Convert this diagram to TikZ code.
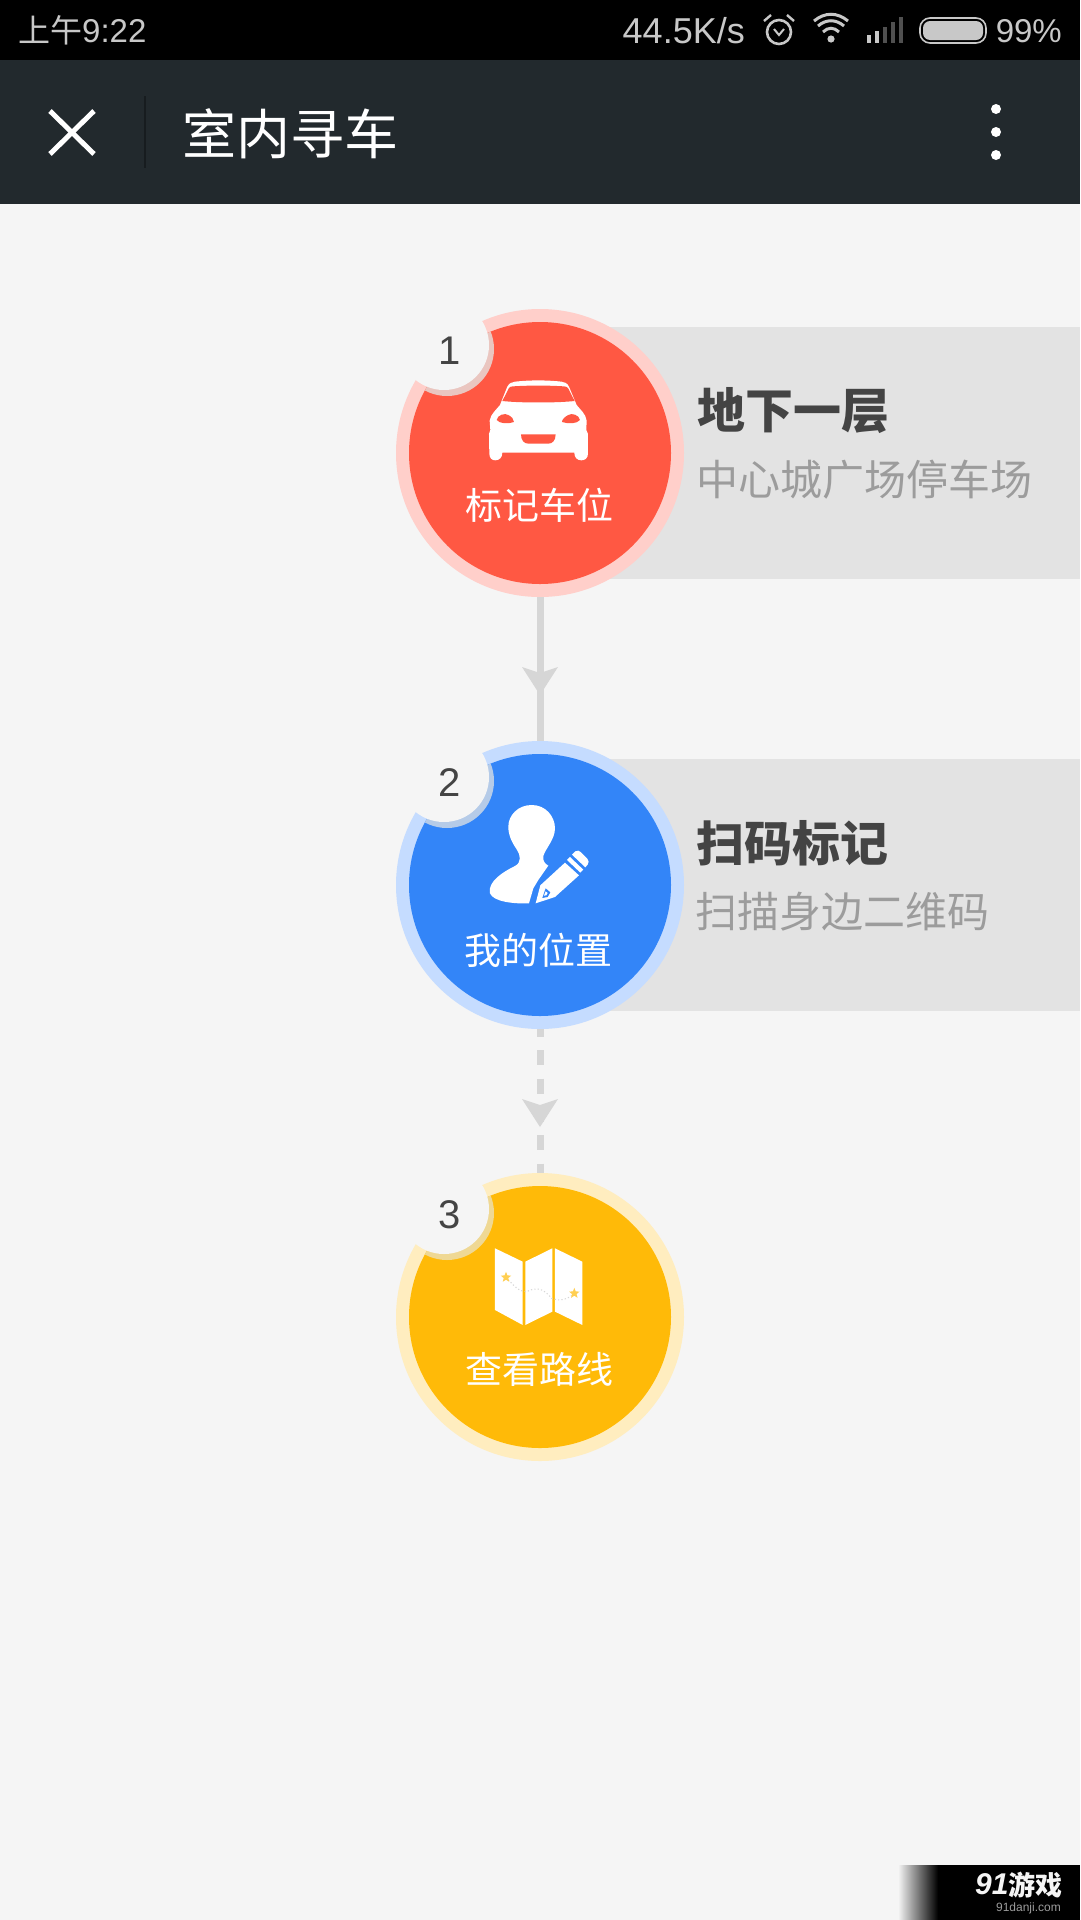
\documentclass[tikz,border=0pt]{standalone}
\usepackage{fontspec}
\setmainfont{Noto Sans CJK SC}
\newfontfamily\latinfont{Liberation Sans}
\usetikzlibrary{decorations.markings,shapes.geometric}
\definecolor{pagebg}{HTML}{F5F5F5}
\definecolor{navbg}{HTML}{22292D}
\definecolor{navline}{HTML}{171C1F}
\definecolor{statusgrey}{HTML}{C8C8C8}
\definecolor{panelgrey}{HTML}{E3E3E3}
\definecolor{linkgrey}{HTML}{D6D6D6}
\definecolor{darktext}{HTML}{444444}
\definecolor{softtext}{HTML}{9C9C9C}
\definecolor{redfill}{HTML}{FF5843}
\definecolor{redring}{HTML}{FFCFCA}
\definecolor{redshadow}{HTML}{EAC6C0}
\definecolor{bluefill}{HTML}{3385F8}
\definecolor{bluering}{HTML}{C5DCFF}
\definecolor{blueshadow}{HTML}{B5CBE8}
\definecolor{yellowfill}{HTML}{FFBA08}
\definecolor{yellowring}{HTML}{FFEDBF}
\definecolor{yellowshadow}{HTML}{EFD894}
\newcommand{\fsz}[1]{\fontsize{#1}{#1}\selectfont}
\newcommand{\badge}[6]{%
  % #1 name, #2 centre y, #3 ring, #4 fill, #5 shadow, #6 digit
  \node[ringdisc,fill=#3] (#1) at (540,#2) {};
  \node[innerdisc,fill=#4] (#1in) at (#1.center) {};
  \begin{scope}
    \clip (540,#2) circle[radius=131];
    \fill[#5] (447,#2-104) circle[radius=47];
  \end{scope}
  \node[notchdisc] (#1notch) at (444,#2-108) {};
  \node[digitlabel] (#1num) at (449.5,#2-102.5) {#6};
}
\tikzset{
  ringdisc/.style={circle,inner sep=0pt,minimum size=288pt},
  innerdisc/.style={circle,inner sep=0pt,minimum size=262pt},
  notchdisc/.style={circle,inner sep=0pt,minimum size=90pt,fill=pagebg},
  digitlabel/.style={font=\latinfont\fsz{40},text=darktext,inner sep=0pt},
  disclabel/.style={font=\fsz{37},text=white,inner sep=0pt},
  headlabel/.style={font=\bfseries\fsz{48},text=darktext,inner sep=0pt,anchor=west},
  sublabel/.style={font=\fsz{42},text=softtext,inner sep=0pt,anchor=west},
  statuslabel/.style={font=\latinfont\fsz{33},text=statusgrey,inner sep=0pt},
  linkline/.style={draw=linkgrey,line width=7pt},
  midarrow/.style={postaction={decorate},decoration={markings,mark=at position 0.5 with {
    \fill[linkgrey] (26,0) -- (-2,18) -- (4,0) -- (-2,-18) -- cycle;}}},
  mapstar/.style={star,star points=5,star point ratio=2.3,inner sep=0pt,minimum size=11pt,fill=#1},
}
\begin{document}
\begin{tikzpicture}[x=1pt,y=-1pt]
\useasboundingbox (0,0) rectangle (1080,1920);
\fill[pagebg] (0,0) rectangle (1080,1920);
% status bar
\fill[black] (0,0) rectangle (1080,60);
\node[statuslabel,anchor=west] (clock) at (18,30) {\fontspec{Noto Sans CJK SC}\fsz{32}上午\latinfont\fsz{33}9:22};
\node[statuslabel,font=\latinfont\fsz{36},anchor=east] (speed) at (745,31) {44.5K/s};
\node[statuslabel,anchor=east] (batt) at (1062,31) {99\%};
% alarm
\draw[statusgrey,line width=2.6pt] (779,32) circle[radius=12];
\draw[statusgrey,line width=2.4pt] (764,21) -- (771,15);
\draw[statusgrey,line width=2.4pt] (794,21) -- (787,15);
\draw[statusgrey,line width=2pt] (774,29) -- (779,35) -- (784,29);
% wifi
\fill[statusgrey] (831,39) circle[radius=3.6];
\draw[statusgrey,line width=3pt] (823,32) .. controls (828,27) and (834,27) .. (839,32);
\draw[statusgrey,line width=3pt] (818,26) .. controls (826,19) and (836,19) .. (844,26);
\draw[statusgrey,line width=3pt] (814,21) .. controls (825,12) and (837,12) .. (848,21);
% signal
\fill[statusgrey] (867,35) rectangle (871,43);
\fill[statusgrey] (875,31) rectangle (879,43);
\fill[statusgrey!40!black] (883,27) rectangle (887,43);
\fill[statusgrey!40!black] (891,22) rectangle (895,43);
\fill[statusgrey!40!black] (899,17) rectangle (903,43);
% battery
\draw[statusgrey,line width=1.6pt,rounded corners=10pt] (920,18) rectangle (986,43);
\fill[statusgrey,rounded corners=7pt] (923,21) rectangle (983,40);
% nav bar
\fill[navbg] (0,60) rectangle (1080,204);
\draw[white,line width=5pt] (50,111) -- (94,154);
\draw[white,line width=5pt] (94,111) -- (50,154);
\draw[navline,line width=1.5pt] (145,96) -- (145,168);
\node[font=\fsz{54},text=white,inner sep=0pt,anchor=west] (title) at (182,134) {室内寻车};
\fill[white] (996,109) circle[radius=5];
\fill[white] (996,132) circle[radius=5];
\fill[white] (996,155) circle[radius=5];
% panels
\fill[panelgrey] (540,327) rectangle (1080,579);
\fill[panelgrey] (540,759) rectangle (1080,1011);
\node[headlabel] (h1) at (697,411) {地下一层};
\node[sublabel] (s1) at (696,480) {中心城广场停车场};
\node[headlabel] (h2) at (696,843) {扫码标记};
\node[sublabel] (s2) at (695,912) {扫描身边二维码};
% discs
\badge{c1}{453}{redring}{redfill}{redshadow}{1}
\badge{c2}{885}{bluering}{bluefill}{blueshadow}{2}
\badge{c3}{1317}{yellowring}{yellowfill}{yellowshadow}{3}
\node[disclabel] (l1) at (539.5,505) {标记车位};
\node[disclabel] (l2) at (538.5,950) {我的位置};
\node[disclabel] (l3) at (539.5,1369) {查看路线};
% connectors
\draw[linkline,midarrow] (c1.south) -- (c2.north);
\draw[linkline,midarrow,dash pattern=on 15pt off 13.33pt,dash phase=7.3pt] (c2.south) -- (c3.north);
% car icon
\begin{scope}[shift={(380,290)},x=0.3333pt,y=-0.3333pt]
\fill[white] (328,490) .. controls (328,505) and (336,511) .. (346,511) .. controls (358,511) and (367,503) .. (367,488)
  -- (583,488) .. controls (583,503) and (592,511) .. (604,511) .. controls (615,511) and (624,505) .. (624,490)
  -- (624,432) -- (619,420) -- (620,392) .. controls (618,372) and (600,358) .. (590,345)
  -- (567,290) .. controls (562,280) and (555,276) .. (545,275) .. controls (500,270) and (450,270) .. (405,275)
  .. controls (395,276) and (387,280) .. (382,290) -- (360,345)
  .. controls (350,358) and (332,372) .. (329,392) -- (331,420) -- (327,432) -- cycle;
\fill[redfill] (387,294) .. controls (390,290) and (394,289) .. (400,289) .. controls (450,286) and (500,286) .. (550,289)
  .. controls (556,289) and (560,290) .. (564,294) -- (584,333) .. controls (530,339) and (420,339) .. (367,333) -- cycle;
\fill[redfill] (350,390) .. controls (352,375) and (375,368) .. (385,375) .. controls (395,380) and (402,388) .. (402,396)
  .. controls (385,402) and (360,402) .. (350,390) -- cycle;
\fill[redfill] (600,390) .. controls (598,375) and (575,368) .. (565,375) .. controls (555,380) and (546,388) .. (546,396)
  .. controls (565,402) and (590,402) .. (600,390) -- cycle;
\fill[redfill] (423,433) -- (527,433) .. controls (527,452) and (517,461) .. (505,461) -- (445,461) .. controls (433,461) and (423,452) .. (423,433) -- cycle;
\end{scope}
% person icon
\begin{scope}[shift={(380,720)},x=0.3333pt,y=-0.3333pt]
\fill[white] (455,255) .. controls (498,255) and (525,290) .. (525,325) .. controls (525,358) and (497,385) .. (490,408)
  .. controls (488,422) and (494,431) .. (505,437) -- (475,480) -- (460,505) -- (447,550)
  .. controls (400,552) and (340,545) .. (330,520) .. controls (322,485) and (370,455) .. (405,438)
  .. controls (425,428) and (422,405) .. (410,388) .. controls (395,366) and (385,345) .. (385,320)
  .. controls (385,285) and (415,255) .. (455,255) -- cycle;
\fill[white] (467,550) -- (481,496) -- (555,428) -- (597,466) -- (525,531) -- cycle;
\fill[white] (561,420) -- (570,411) -- (610,449) -- (601,458) -- cycle;
\fill[white] (576,404) -- (586,394) .. controls (592,390) and (598,392) .. (602,396) -- (622,416) .. controls (627,422) and (627,428) .. (623,434) -- (616,442) -- cycle;
\fill[bluefill] (497,505) -- (511,517) -- (503,531) -- (487,534) -- cycle;
\fill[white] (497,514) -- (503,519) -- (499,526) -- (492,527) -- cycle;
\end{scope}
% map icon
\begin{scope}[shift={(380,1010)},x=0.3333pt,y=-0.3333pt]
\fill[white] (345,715) -- (428,755) -- (428,945) -- (345,900) -- cycle;
\fill[white] (436,755) -- (517,715) -- (517,905) -- (436,945) -- cycle;
\fill[white] (525,715) -- (607,755) -- (607,945) -- (525,905) -- cycle;
\draw[linkgrey,line width=1pt,dash pattern=on 1.2pt off 2.2pt] (378,802) .. controls (400,825) and (415,845) .. (440,845) .. controls (470,830) and (490,835) .. (515,865) .. controls (540,875) and (565,868) .. (583,850);
\node[mapstar=yellowfill!70!white] (star1) at (378,802) {};
\node[mapstar=yellowfill!70!white] (star2) at (583,850) {};
\end{scope}
% watermark
\fill[black] (938,1865) rectangle (1080,1920);
\shade[left color=pagebg,right color=black] (898,1865) rectangle (938,1920);
\node[font=\latinfont\bfseries\itshape\fsz{30},text=pagebg,inner sep=0pt,anchor=west] (wm91) at (975,1884) {91};
\node[font=\bfseries\fsz{22},text=pagebg,inner sep=0pt] (wmcn) at (1035,1885) {\fsz{27}游戏};
\node[font=\latinfont\fsz{12},text=softtext,inner sep=0pt,anchor=east] (wmurl) at (1061,1908) {91danji.com};
\end{tikzpicture}
\end{document}
